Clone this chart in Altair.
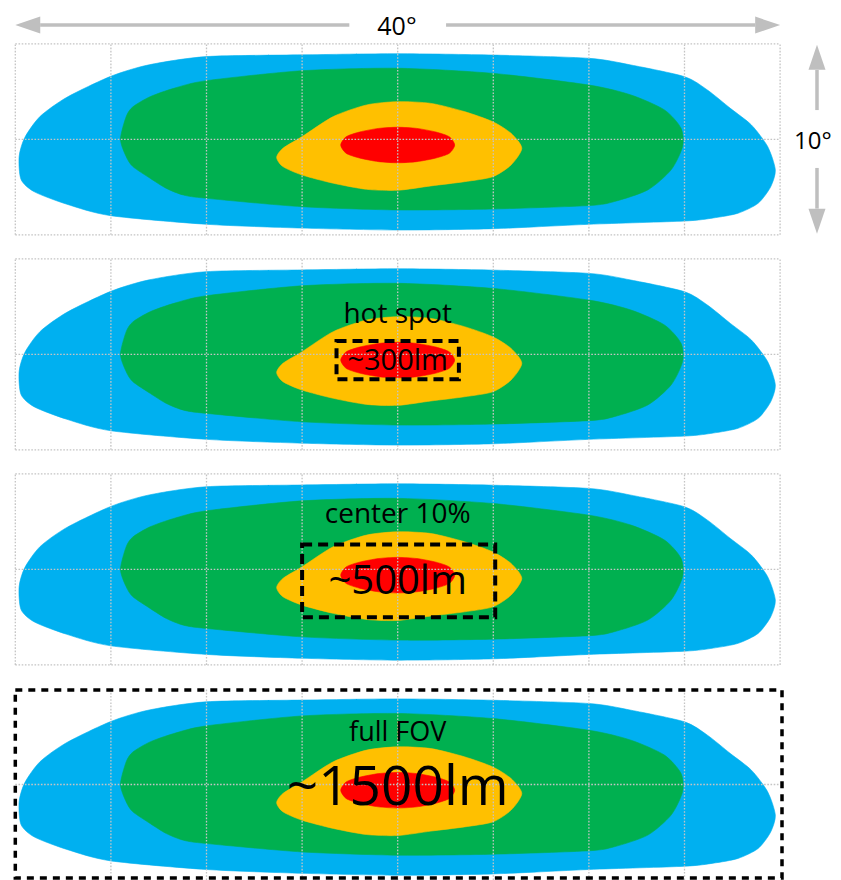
import altair as alt
import pandas as pd

# ---------------- data (degrees, panel-local; x: -20..20, y: -5..5) ----------------
blue_x = [0, -5.0, -10.0, -13.0, -15.0, -17.3, -18.7, -19.5, -19.8, -19.7, -19.0, -17.3, -15.0, -10.0, -5.0,
          0, 5.0, 10.0, 15.0, 16.5, 17.8, 18.85, 19.5, 19.75, 19.35, 18.5, 17.4, 16.2, 15.0, 12.2, 10.0, 5.0]
blue_y = [4.48, 4.42, 4.33, 3.9, 3.3, 2.2, 1.2, 0.1, -0.9, -2.1, -2.75, -3.4, -4.0, -4.45, -4.65,
          -4.75, -4.68, -4.45, -4.28, -4.12, -3.87, -3.35, -2.5, -1.6, -0.38, 0.75, 1.62, 2.58, 3.28, 3.89, 4.24, 4.41]

green_x = [0, -5.0, -10.0, -11.7, -12.95, -13.85, -14.2, -14.5, -14.2, -13.85, -12.95, -12.1, -11.2, -10.0, -5.0,
           0, 5.0, 10.0, 11.33, 13.08, 14.3, 14.9, 14.82, 13.95, 12.2, 10.0, 5.0]
green_y = [3.72, 3.59, 3.07, 2.67, 2.23, 1.7, 1.19, 0.0, -0.91, -1.43, -2.04, -2.57, -2.92, -3.09, -3.53,
           -3.7, -3.65, -3.47, -3.26, -2.65, -1.6, -0.38, 0.58, 1.54, 2.32, 2.84, 3.45]

yellow_x = [0, -1.62, -3.37, -5.0, -6.0, -6.33, -6.0, -5.0, -3.37, -1.62,
            0, 1.74, 3.49, 4.97, 5.93, 6.49, 5.93, 4.97, 3.49, 1.74]
yellow_y = [1.97, 1.8, 1.19, 0.14, -0.47, -0.95, -1.43, -1.87, -2.3, -2.62,
            -2.67, -2.44, -2.22, -1.96, -1.34, -0.47, 0.31, 0.92, 1.45, 1.88]

red_x = [0, 1.0, 2.0, 2.7, 2.98, 2.7, 2.0, 1.0, 0, -1.0, -2.0, -2.7, -2.98, -2.7, -2.0, -1.0]
red_y = [0.63, 0.57, 0.38, 0.13, -0.3, -0.73, -0.98, -1.17, -1.23, -1.17, -0.98, -0.73, -0.3, 0.13, 0.38, 0.57]

layer_names = ["blue", "green", "yellow", "red"]
layer_colors = ["#00b0f0", "#00b050", "#ffc000", "#ff0000"]

panel_centre = [0.0, -11.26, -22.52, -33.78]  # vertical offset of each panel (deg)

grid_x = [-20, -15, -10, -5, 0, 5, 10, 15, 20]
grid_y = [-5, 0, 5]

# dashed boxes: panel, x1, x2, y1, y2
box_panel = [1, 2, 3]
box_x1 = [-3.2, -5.0, -20.0]
box_x2 = [3.2, 5.1, 20.1]
box_y1 = [-1.3, -2.5, -4.9]
box_y2 = [0.7, 1.3, 4.95]
box_dash = ["long", "long", "short"]

# panel labels
lab_panel = [1, 1, 2, 2, 3, 3]
lab_text = ["hot spot", "~300lm", "center 10%", "~500lm", "full FOV", "~1500lm"]
lab_y = [1.62, -0.82, 2.41, -1.31, 2.3, -1.06]
lab_size = [28, 29, 28, 40, 27, 55]

# dimension labels
dim_text = ["40°", "10°"]
dim_x = [-0.04, 20.73]
dim_y = [5.46, -0.51]

# ---------------- build tables ----------------
outlines = {"blue": (blue_x, blue_y), "green": (green_x, green_y),
            "yellow": (yellow_x, yellow_y), "red": (red_x, red_y)}
rows = []
for p, off in enumerate(panel_centre):
    for name in layer_names:
        xs_, ys_ = outlines[name]
        for i, (a, b) in enumerate(zip(xs_, ys_)):
            rows.append({"panel": p, "layer": name, "i": i, "x": a, "y": b + off})
shapes = pd.DataFrame(rows)

vrows, hrows = [], []
for p, off in enumerate(panel_centre):
    for gx in grid_x:
        if p == 3 and abs(gx) == 20:
            continue
        vrows.append({"x": gx, "y": -5 + off, "y2": 5 + off})
    for gy in grid_y:
        if p == 3 and abs(gy) == 5:
            continue
        hrows.append({"x": -20, "x2": 20, "y": gy + off})
vgrid = pd.DataFrame(vrows)
hgrid = pd.DataFrame(hrows)

boxes = pd.DataFrame({
    "x": box_x1, "x2": box_x2,
    "y": [a + panel_centre[p] for a, p in zip(box_y1, box_panel)],
    "y2": [a + panel_centre[p] for a, p in zip(box_y2, box_panel)],
    "dash": box_dash,
})

labels = pd.DataFrame({
    "text": lab_text, "x": [0.0] * len(lab_text),
    "y": [a + panel_centre[p] for a, p in zip(lab_y, lab_panel)],
    "size": lab_size,
})

# ---------------- scales ----------------
XS = alt.Scale(domain=[-20.382, 22.767], nice=False, zero=False)
YS = alt.Scale(domain=[-38.78, 6.874], nice=False, zero=False)


def X(f):
    return alt.X(f, scale=XS, axis=None)


def Y(f):
    return alt.Y(f, scale=YS, axis=None)


layers = []
for name, col in zip(layer_names, layer_colors):
    d = shapes[shapes["layer"] == name]
    layers.append(
        alt.Chart(d).mark_line(interpolate="cardinal-closed", tension=0.25, fill=col, stroke=col,
                               strokeWidth=0.6)
        .encode(x=X("x:Q"), y=Y("y:Q"), order="i:Q", detail="panel:N")
    )

grid_style = dict(color="#c4c4c4", strokeDash=[1.6, 1.6], strokeWidth=1.3)
layers.append(alt.Chart(vgrid).mark_rule(**grid_style).encode(x=X("x:Q"), y=Y("y:Q"), y2="y2:Q"))
layers.append(alt.Chart(hgrid).mark_rule(**grid_style).encode(x=X("x:Q"), x2="x2:Q", y=Y("y:Q")))

layers.append(
    alt.Chart(boxes[boxes["dash"] == "long"]).mark_rect(fillOpacity=0, stroke="black", strokeWidth=4,
                                                        strokeDash=[10, 6])
    .encode(x=X("x:Q"), x2="x2:Q", y=Y("y:Q"), y2="y2:Q")
)
layers.append(
    alt.Chart(boxes[boxes["dash"] == "short"]).mark_rect(fillOpacity=0, stroke="black", strokeWidth=3.5,
                                                         strokeDash=[7, 6])
    .encode(x=X("x:Q"), x2="x2:Q", y=Y("y:Q"), y2="y2:Q")
)

layers.append(
    alt.Chart(labels).mark_text(align="center", baseline="alphabetic", font="Open Sans", color="black")
    .encode(x=X("x:Q"), y=Y("y:Q"), text="text:N", size=alt.Size("size:Q", scale=None))
)

# ---------------- dimension arrows ----------------
arrow_col = "#bfbfbf"
hline = pd.DataFrame({"x": [-18.7, 2.53], "x2": [-2.53, 18.7], "y": [5.98, 5.98]})
vline = pd.DataFrame({"x": [21.93, 21.93], "y": [3.63, -1.5], "y2": [1.53, -3.63]})
heads = pd.DataFrame({
    "x": [-19.35, 19.35, 21.93, 21.93],
    "y": [5.98, 5.98, 4.29, -4.29],
    "shape": ["M-1,0L1,-0.68L1,0.68Z", "M1,0L-1,-0.68L-1,0.68Z",
              "M0,-1L-0.68,1L0.68,1Z", "M0,1L-0.68,-1L0.68,-1Z"],
})
layers.append(alt.Chart(hline).mark_rule(color=arrow_col, strokeWidth=3.5)
              .encode(x=X("x:Q"), x2="x2:Q", y=Y("y:Q")))
layers.append(alt.Chart(vline).mark_rule(color=arrow_col, strokeWidth=3.5)
              .encode(x=X("x:Q"), y=Y("y:Q"), y2="y2:Q"))
layers.append(alt.Chart(heads).mark_point(filled=True, size=625, color=arrow_col, opacity=1)
              .encode(x=X("x:Q"), y=Y("y:Q"), shape=alt.Shape("shape:N", scale=None)))

dim_top = pd.DataFrame({"text": dim_text[:1], "x": dim_x[:1], "y": dim_y[:1]})
dim_side = pd.DataFrame({"text": dim_text[1:], "x": dim_x[1:], "y": dim_y[1:]})
layers.append(alt.Chart(dim_top).mark_text(align="center", baseline="alphabetic",
                                           font="Open Sans", fontSize=25, color="black")
              .encode(x=X("x:Q"), y=Y("y:Q"), text="text:N"))
layers.append(alt.Chart(dim_side).mark_text(align="left", baseline="alphabetic",
                                            font="Open Sans", fontSize=24, color="black")
              .encode(x=X("x:Q"), y=Y("y:Q"), text="text:N"))

chart = (
    alt.layer(*layers)
    .properties(width=825, height=872, padding=0, autosize=alt.AutoSizeParams(type="none"),
                background="white")
    .configure_view(stroke=None)
)

chart.save("out.html", embed_options={"renderer": "svg", "actions": False})
